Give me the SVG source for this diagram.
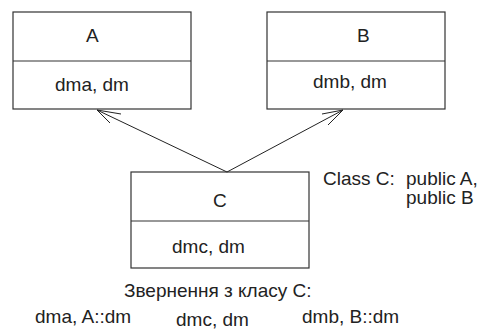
<svg xmlns="http://www.w3.org/2000/svg" width="483" height="336" viewBox="0 0 483 336">
<style>
.box{fill:#fff;stroke:#333;stroke-width:1.2}
.t{font-family:"Liberation Sans",Arial,sans-serif;font-size:19px;fill:#222}
.c{stroke:#222;stroke-width:1;fill:none}
</style>
<rect width="483" height="336" fill="#fff"/>
<g id="A">
<rect class="box" x="13" y="12" width="178" height="97"/>
<line class="box" x1="13" y1="61" x2="191" y2="61"/>
<text class="t" x="86" y="42">A</text>
<text class="t" x="55" y="91">dma, dm</text>
</g>
<g id="B">
<rect class="box" x="267" y="12" width="178" height="97"/>
<line class="box" x1="267" y1="61" x2="445" y2="61"/>
<text class="t" x="357" y="42">B</text>
<text class="t" x="313" y="88">dmb, dm</text>
</g>
<g id="C">
<rect class="box" x="131" y="172" width="178" height="96"/>
<line class="box" x1="131" y1="221" x2="309" y2="221"/>
<text class="t" x="213" y="207">C</text>
<text class="t" x="172" y="253">dmc, dm</text>
</g>
<g id="connectors">
<polyline class="c" points="97,110 227,172 343,110"/>
<polyline class="c" points="121,114 97,110 110,123"/>
<polyline class="c" points="322,114 343,110 328,125"/>
</g>
<g id="labels">
<text class="t" x="323" y="185">Class C:</text>
<text class="t" x="406" y="185">public A,</text>
<text class="t" x="406" y="204">public B</text>
<text class="t" x="124" y="297">Звернення з класу С:</text>
<text class="t" x="35" y="323">dma, A::dm</text>
<text class="t" x="176" y="326">dmc, dm</text>
<text class="t" x="302" y="323">dmb, B::dm</text>
</g>
</svg>
